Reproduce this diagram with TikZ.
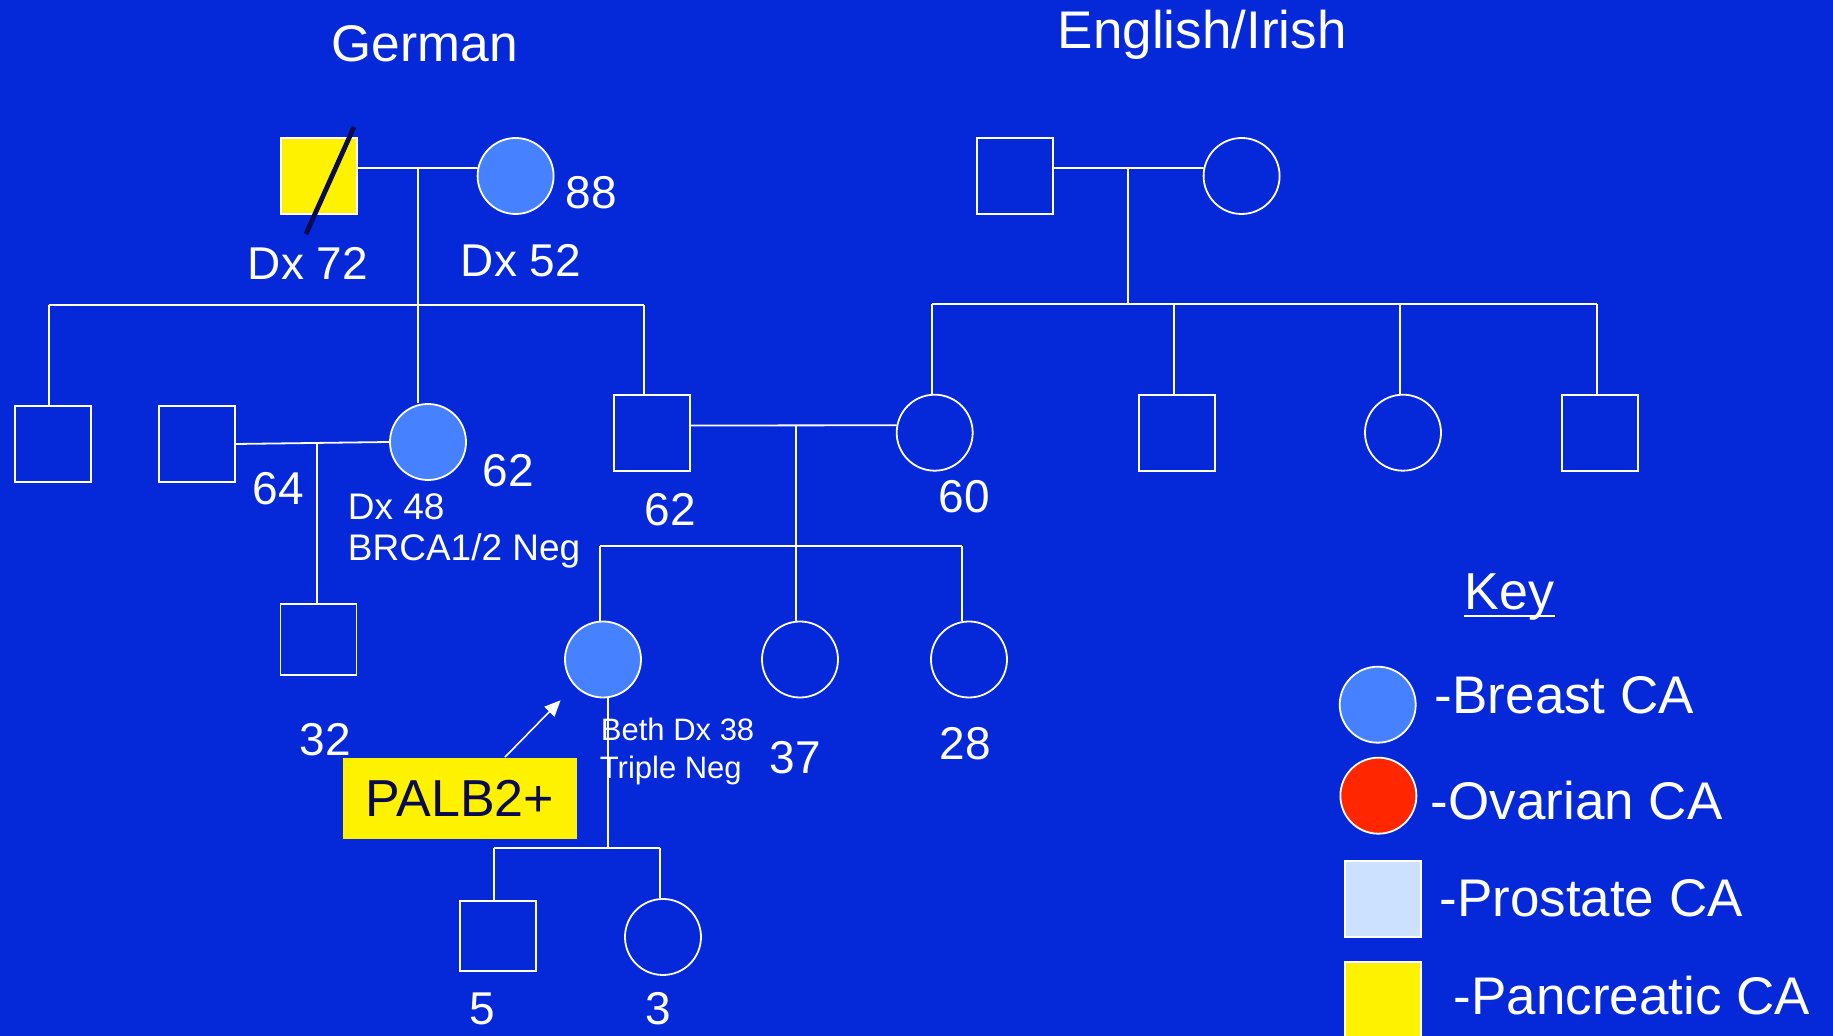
\documentclass[tikz,border=0pt]{standalone}
\usepackage{fontspec}
\setmainfont{Liberation Sans}
\usetikzlibrary{arrows.meta}
\definecolor{bgblue}{RGB}{5,41,216}
\definecolor{brcablue}{RGB}{70,130,255}
\definecolor{ovred}{RGB}{255,38,0}
\definecolor{prlight}{RGB}{204,224,255}
\definecolor{navy}{RGB}{10,10,80}
\newcommand{\fsz}[1]{\fontsize{#1}{#1}\selectfont}

\begin{document}
\begin{tikzpicture}[
  x=0.5pt, y=-0.5pt, white, line width=0.9pt,
  male/.style={draw=white, minimum size=38pt, inner sep=0pt},
  female/.style={male, circle},
  breast/.style={fill=brcablue},
  age/.style={anchor=base west, inner sep=0pt, font=\fsz{23}},
  note/.style={anchor=base west, inner sep=0pt, font=\fsz{18.5}},
  bethnote/.style={anchor=base west, inner sep=0pt, font=\fsz{15.5}},
  keytext/.style={anchor=base west, inner sep=0pt, font=\fsz{26.5}}
]
  \fill[bgblue] (0,0) rectangle (1833,1036);
  \useasboundingbox (0,0) rectangle (1833,1036);

  \node[anchor=base west, inner sep=0pt, font=\fsz{25.75}] (tg) at (331,61.7) {German};
  \node[anchor=base west, inner sep=0pt, font=\fsz{26.5}] (te) at (1057,48.3) {English/Irish};

  % German side
  \node[male, fill=yellow] (g1) at (319,176) {};
  \node[female, breast] (g2) at (515.6,176) {};
  \node[male] (u1) at (52.6,444) {};
  \node[male] (u2) at (197,444) {};
  \node[female, breast] (a1) at (428,442) {};
  \node[male, minimum height=35.5pt] (c1) at (318.5,639.5) {};
  \node[male] (f1) at (652,432.7) {};
  \draw[navy, line width=2.4pt] (g1.center) ++(-13,58) -- ++(48,-107);

  % English/Irish side
  \node[male] (e1) at (1015,176) {};
  \node[female] (e2) at (1241.6,176) {};
  \node[female] (m1) at (934.7,432.7) {};
  \node[male] (e3) at (1176.8,432.7) {};
  \node[female] (e4) at (1403,432.7) {};
  \node[male] (e5) at (1600,432.7) {};

  % next generations
  \node[female, breast] (b1) at (603,659.5) {};
  \node[female] (s1) at (800,659.5) {};
  \node[female] (s2) at (969,659.5) {};
  \node[male, minimum height=35pt] (k1) at (498,936) {};
  \node[female] (k2) at (663,937) {};

  \coordinate (gm) at (418,168); \coordinate (gs) at (418,305);
  \coordinate (gl) at (49,305);  \coordinate (gr) at (644,305);
  \coordinate (am) at (317,443);
  \draw ([yshift=4pt]g1.east) -- (g2.168);
  \draw (gm) -- (gs);
  \draw (gl) -- (gr);
  \draw (gl) -- (gl |- u1.north);
  \draw (gs) -- (gs |- a1.north);
  \draw (gr) -- (gr |- f1.north);
  \draw (u2.east) -- (a1.west);
  \draw (am) -- (am |- c1.north);

  \coordinate (em) at (1128,168); \coordinate (es) at (1128,304);
  \coordinate (el) at (932,304);  \coordinate (er) at (1597,304);
  \draw ([yshift=4pt]e1.east) -- (e2.168);
  \draw (em) -- (es);
  \draw (el) -- (er);
  \draw (el) -- (el |- m1.north);
  \foreach \n in {e3,e4,e5} \draw ([xshift=-1.5pt]es -| \n.north) -- ([xshift=-1.5pt]\n.north);

  \coordinate (pm) at (796,425.5); \coordinate (ps) at (796,546);
  \coordinate (pl) at (600,546);   \coordinate (pr) at (962,546);
  \draw ([yshift=3.6pt]f1.east) -- (m1.169);
  \draw (pm) -- (ps);
  \draw (pl) -- (pr);
  \draw (pl) -- (pl |- b1.north);
  \draw (ps) -- (ps |- s1.north);
  \draw (pr) -- (pr |- s2.north);

  \coordinate (bm) at (607.7,848);
  \coordinate (kl) at (494,848); \coordinate (kr) at (660,848);
  \draw (bm |- b1.south) -- (bm);
  \draw (kl) -- (kr);
  \draw (kl) -- (kl |- k1.north);
  \draw (kr) -- (kr |- k2.north);

  \node[fill=yellow, text=navy, minimum width=117pt, minimum height=40.5pt, inner sep=0pt, font=\fsz{26}] (pb) at (460,798.5) {PALB2+};
  \draw[-{Triangle[length=8pt,width=7pt]}, line width=0.8pt, shorten >=10pt] ([xshift=22.5pt]pb.north) -- (b1.223);

  % ages and notes
  \node[age] (l88) at (565,208.3) {88};
  \node[age] (dx72) at (247,280) {Dx 72};
  \node[age] (dx52) at (460,276.7) {Dx 52};
  \node[age] (l64) at (252,504.3) {64};
  \node[age] (l62a) at (482,486.7) {62};
  \node[note] (dx48) at (347,519.3) {Dx 48};
  \node[note] (brca) at (347,560.7) {BRCA1/2 Neg};
  \node[age] (l62f) at (644,526) {62};
  \node[age] (l60) at (938,512.3) {60};
  \node[age] (l32) at (299,755.4) {32};
  \node[bethnote] (dx38) at (600,741) {Beth Dx 38};
  \node[bethnote] (tneg) at (599,779) {Triple Neg};
  \node[age] (l37) at (769,774) {37};
  \node[age] (l28) at (939,760) {28};
  \node[age] (l5) at (469,1025) {5};
  \node[age] (l3) at (645,1025) {3};

  % key
  \node[keytext, font=\fsz{26}] (key) at (1464,610) {Key};
  \draw[line width=1pt] ([yshift=-3pt]key.base west) -- ([yshift=-3pt]key.base east);
  \node[female, breast] (kb) at (1377.7,704.7) {};
  \node[female, fill=ovred] (ko) at (1378.4,795.7) {};
  \node[male, fill=prlight] (kp) at (1383,899) {};
  \node[male, fill=yellow] (ky) at (1383,1000) {};
  \node[keytext] (kbt) at (1434,713.3) {-Breast CA};
  \node[keytext] (kot) at (1430,819.3) {-Ovarian CA};
  \node[keytext] (kpt) at (1438.5,916.7) {-Prostate CA};
  \node[keytext] (kyt) at (1452.8,1015) {-Pancreatic CA};
\end{tikzpicture}
\end{document}
